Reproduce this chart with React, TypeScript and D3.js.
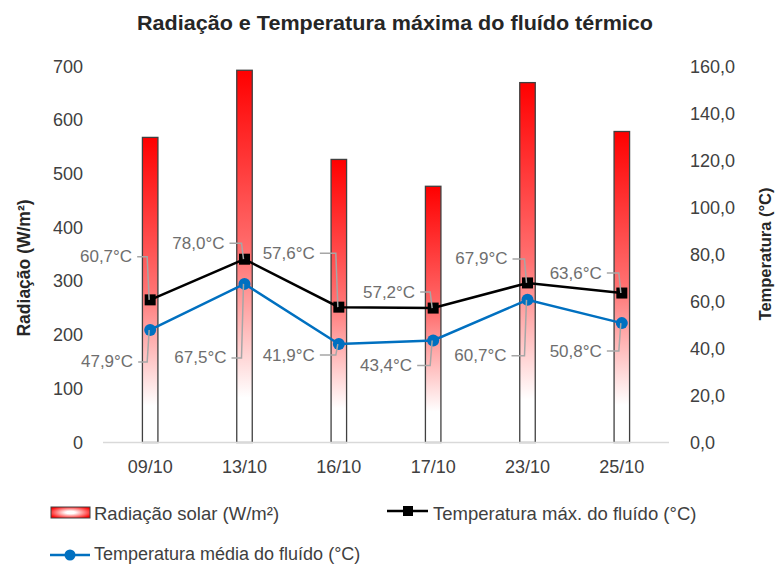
import React from "react";
import * as d3 from "d3";

const categories = ["09/10", "13/10", "16/10", "17/10", "23/10", "25/10"];
const radiation = [568, 693, 527, 477, 670, 579];
const tempMax = [60.7, 78.0, 57.6, 57.2, 67.9, 63.6];
const tempMean = [47.9, 67.5, 41.9, 43.4, 60.7, 50.8];
const radTicks = [0, 100, 200, 300, 400, 500, 600, 700];
const tempTicks = [0, 20, 40, 60, 80, 100, 120, 140, 160];

const title = "Radiação e Temperatura máxima do fluído térmico";
const leftTitle = "Radiação (W/m²)";
const rightTitle = "Temperatura (°C)";
const legendRad = "Radiação solar (W/m²)";
const legendMax = "Temperatura máx. do fluído (°C)";
const legendMean = "Temperatura média do fluído (°C)";

// layout: label offsets (text right end dx, text centre dy) relative to marker
const maxLabelOffsets = [[-18, -43], [-20, -16], [-24, -54], [-18, -16], [-20, -24], [-20, -20]];
const meanLabelOffsets = [[-17, 32], [-18, 74], [-24, 11], [-21, 25], [-21, 56], [-20, 28]];

const W = 775;
const H = 565;
const FONT = "'Liberation Sans', Arial, sans-serif";

export default function App() {
  const x = d3.scaleBand<string>().domain(categories).range([103, 669]);
  const yRad = d3.scaleLinear().domain([0, 700]).range([442.5, 66.5]);
  const yTemp = d3.scaleLinear().domain([0, 160]).range([442.5, 66.5]);
  const fmt = (v: number) => d3.format(".1f")(v).replace(".", ",");
  const cx = (c: string) => (x(c) as number) + x.bandwidth() / 2;
  const barW = 15.5;

  const line = d3
    .line<number>()
    .x((_, i) => cx(categories[i]))
    .y((d) => yTemp(d));

  const renderLabels = (vals: number[], offs: number[][], key: string) =>
    vals.map((v, i) => {
      const mx = cx(categories[i]);
      const my = yTemp(v);
      const tx = mx + offs[i][0];
      const ty = my + offs[i][1];
      const pts: [number, number][] = [
        [tx + 5, ty],
        [mx - 3, ty],
        [mx - 1, my],
      ];
      return (
        <g key={key + i}>
          <polyline
            points={pts.map((p) => p.join(",")).join(" ")}
            fill="none"
            stroke="#A6A6A6"
            strokeWidth={1.5}
          />
          <text
            x={tx}
            y={ty}
            textAnchor="end"
            dominantBaseline="central"
            fontSize={17}
            fill="#6E6E6E"
          >
            {fmt(v) + "°C"}
          </text>
        </g>
      );
    });

  return (
    <svg
      width={W}
      height={H}
      style={{ position: "absolute", left: 0, top: 0, background: "#fff" }}
      fontFamily={FONT}
    >
      <defs>
        <linearGradient id="barGrad" x1="0" y1="0" x2="0" y2="1">
          <stop offset="0" stopColor="#FF0000" />
          <stop offset="0.5" stopColor="#FF7272" />
          <stop offset="0.88" stopColor="#FFFFFF" />
          <stop offset="1" stopColor="#FFFFFF" />
        </linearGradient>
        <radialGradient id="legGrad" cx="0.5" cy="0.5" r="0.6">
          <stop offset="0" stopColor="#FFFFFF" />
          <stop offset="0.2" stopColor="#FFFFFF" />
          <stop offset="1" stopColor="#FF0000" />
        </radialGradient>
      </defs>
      <rect width={W} height={H} fill="#fff" />

      <text
        x={137}
        y={30}
        textAnchor="start"
        fontSize={19.5}
        fontWeight="bold"
        fill="#262626"
        textLength={516}
        lengthAdjust="spacingAndGlyphs"
      >
        {title}
      </text>

      {/* left axis ticks */}
      {radTicks.map((t) => (
        <text
          key={"l" + t}
          x={83}
          y={yRad(t)}
          textAnchor="end"
          dominantBaseline="central"
          fontSize={18}
          fill="#404040"
        >
          {t}
        </text>
      ))}
      {/* right axis ticks */}
      {tempTicks.map((t) => (
        <text
          key={"r" + t}
          x={690}
          y={yTemp(t)}
          textAnchor="start"
          dominantBaseline="central"
          fontSize={18}
          fill="#404040"
        >
          {fmt(t)}
        </text>
      ))}

      <text
        transform="translate(24,268) rotate(-90)"
        textAnchor="middle"
        dominantBaseline="central"
        fontSize={17.5}
        fontWeight="bold"
        fill="#262626"
      >
        {leftTitle}
      </text>
      <text
        transform="translate(765,254) rotate(-90)"
        textAnchor="middle"
        dominantBaseline="central"
        fontSize={16.5}
        fontWeight="bold"
        fill="#262626"
      >
        {rightTitle}
      </text>

      {/* bars */}
      {radiation.map((v, i) => (
        <rect
          key={"b" + i}
          x={cx(categories[i]) - barW / 2}
          y={yRad(v)}
          width={barW}
          height={yRad(0) - yRad(v)}
          fill="url(#barGrad)"
          stroke="#404040"
          strokeWidth={1.3}
        />
      ))}

      {/* baseline */}
      <line x1={103} x2={669} y1={yRad(0)} y2={yRad(0)} stroke="#D9D9D9" strokeWidth={1.5} />

      {/* x labels */}
      {categories.map((c) => (
        <text
          key={"x" + c}
          x={cx(c)}
          y={467}
          textAnchor="middle"
          dominantBaseline="central"
          fontSize={18}
          fill="#404040"
        >
          {c}
        </text>
      ))}

      {/* lines */}
      <path d={line(tempMax) || ""} fill="none" stroke="#000" strokeWidth={2.5} />
      <path d={line(tempMean) || ""} fill="none" stroke="#0070C0" strokeWidth={2.5} />
      {tempMax.map((v, i) => (
        <rect
          key={"m" + i}
          x={cx(categories[i]) - 5.5}
          y={yTemp(v) - 5.5}
          width={11}
          height={11}
          fill="#000"
        />
      ))}
      {tempMean.map((v, i) => (
        <circle key={"c" + i} cx={cx(categories[i])} cy={yTemp(v)} r={6} fill="#0070C0" />
      ))}

      {renderLabels(tempMax, maxLabelOffsets, "ml")}
      {renderLabels(tempMean, meanLabelOffsets, "al")}

      {/* legend */}
      <rect x={51} y={507} width={39} height={11} fill="url(#legGrad)" stroke="#404040" strokeWidth={1} />
      <text x={94} y={513} dominantBaseline="central" fontSize={18.5} fill="#404040">
        {legendRad}
      </text>

      <line x1={387} x2={428} y1={511} y2={511} stroke="#000" strokeWidth={2.5} />
      <rect x={403} y={506} width={10} height={10} fill="#000" />
      <text x={433} y={513} dominantBaseline="central" fontSize={18.5} fill="#404040">
        {legendMax}
      </text>

      <line x1={50} x2={90} y1={555} y2={555} stroke="#0070C0" strokeWidth={2.5} />
      <circle cx={70} cy={555} r={5.5} fill="#0070C0" />
      <text x={94} y={554} dominantBaseline="central" fontSize={18} fill="#404040">
        {legendMean}
      </text>
    </svg>
  );
}
